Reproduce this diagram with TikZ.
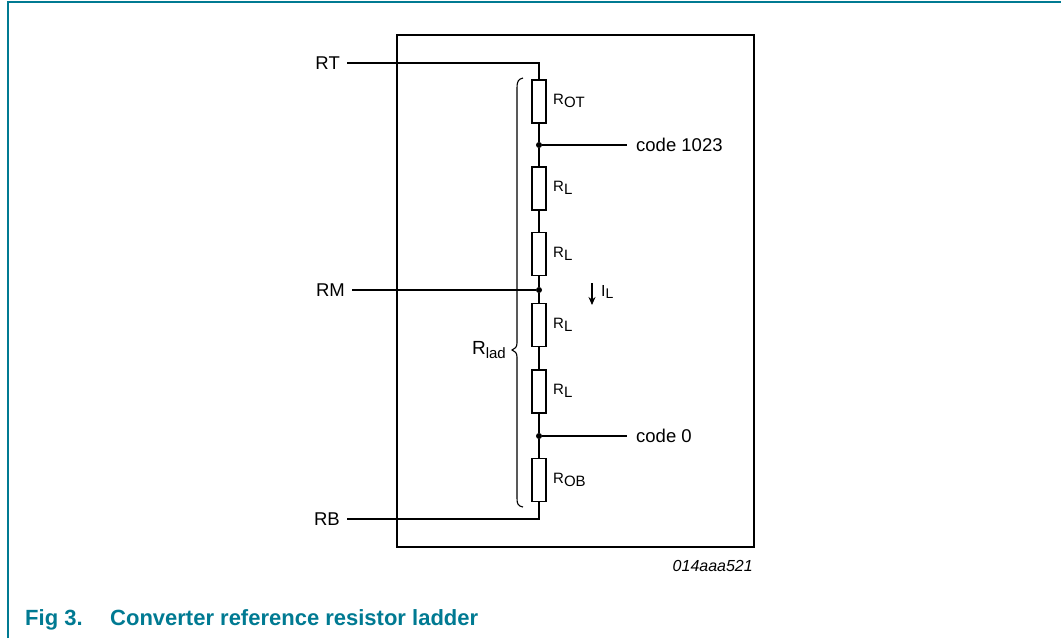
\documentclass[tikz,border=0pt]{standalone}
\usepackage{fontspec}
\setmainfont{Liberation Sans}
\usetikzlibrary{arrows.meta}
\definecolor{nxpteal}{RGB}{0,122,146}
\begin{document}
\begin{tikzpicture}[x=1pt,y=-1pt,
  res/.style={draw,fill=white,line width=1.1pt,minimum width=14pt,minimum height=43pt,inner sep=0pt},
  wire/.style={line width=1.1pt},
  lbl/.style={font=\fontsize{18.5}{21}\selectfont,inner sep=0pt},
  rlbl/.style={font=\fontsize{15}{17}\selectfont,inner sep=0pt,anchor=west},
  jdot/.style={circle,fill=black,inner sep=0pt,minimum size=6pt},
  figcap/.style={font=\fontsize{22}{26}\selectfont\bfseries,text=nxpteal,inner sep=0pt,anchor=base west}]
\useasboundingbox (0,0) rectangle (1061,638);
\draw[nxpteal,line width=1.5pt] (8,638) -- (8,2) -- (1061,2);
% box
\draw[line width=2.6pt] (397,35) rectangle (754,547);
% resistors
\node[res] (rOT) at (539,101.5) {};
\node[res] (rL1) at (539,188.5) {};
\node[res] (rL2) at (539,254) {};
\node[res] (rL3) at (539,325) {};
\node[res] (rL4) at (539,391.5) {};
\node[res] (rOB) at (539,480) {};
\node[jdot] (n1023) at (539,145) {};
\node[jdot] (nM) at (539,290) {};
\node[jdot] (n0) at (539,436) {};
\coordinate (ct) at (539,63);
\coordinate (cb) at (539,519);
\coordinate (e1023) at (627,145);
\coordinate (e0) at (627,436);
% labels
\node[lbl,anchor=east] (RT) at (340,63) {RT};
\node[lbl,anchor=east] (RM) at (345,290) {RM};
\node[lbl,anchor=east] (RB) at (340,519) {RB};
\node[lbl,anchor=west] (c1023) at (636,145) {code 1023};
\node[lbl,anchor=west] (c0) at (636,436) {code 0};
\node[rlbl] (lOT) at (553,101) {R\raisebox{-0.35ex}{OT}};
\node[rlbl] (lL1) at (553,188) {R\raisebox{-0.35ex}{L}};
\node[rlbl] (lL2) at (553,254) {R\raisebox{-0.35ex}{L}};
\node[rlbl] (lL3) at (553,325) {R\raisebox{-0.35ex}{L}};
\node[rlbl] (lL4) at (553,391) {R\raisebox{-0.35ex}{L}};
\node[rlbl] (lOB) at (553,480) {R\raisebox{-0.35ex}{OB}};
% wires
\draw[wire] ([xshift=7pt]RT.east) -- (ct) -- (rOT.north);
\draw[wire] (rOT.south) -- (n1023) -- (rL1.north);
\draw[wire] (rL1.south) -- (rL2.north);
\draw[wire] (rL2.south) -- (nM) -- (rL3.north);
\draw[wire] (rL3.south) -- (rL4.north);
\draw[wire] (rL4.south) -- (n0) -- (rOB.north);
\draw[wire] (rOB.south) -- (cb) -- ([xshift=7pt]RB.east);
\draw[wire] ([xshift=7pt]RM.east) -- (nM);
\draw[wire] (n1023) -- (e1023);
\draw[wire] (n0) -- (e0);
% current arrow
\coordinate (ia) at (592,283);
\coordinate (ib) at (592,305);
\draw[wire,-{Stealth[length=8pt,width=7pt]}] (ia) -- (ib);
\node[anchor=west,inner sep=0pt,font=\fontsize{16}{18}\selectfont] (IL) at (601,292) {I\raisebox{-0.35ex}{\fontsize{14}{16}\selectfont L}};
% brace
\draw[line width=1.1pt] (523,78) .. controls (518,79) and (517,82) .. (517,88)
  -- (517,343) .. controls (517,347) and (515,349) .. (512,350)
  .. controls (515,351) and (517,353) .. (517,357)
  -- (517,498) .. controls (517,504) and (518,506) .. (523,507);
\node[anchor=east,inner sep=0pt] (Rlad) at (506,350) {\fontsize{19}{21}\selectfont R\raisebox{-0.4ex}{\fontsize{15}{17}\selectfont lad}};
% id
\node[anchor=east,inner sep=0pt,font=\fontsize{16}{18}\selectfont\itshape] (id) at (753,566) {014aaa521};
% caption
\node[figcap] (fig) at (25,625) {Fig 3.};
\node[figcap] (ctext) at (110,625) {Converter reference resistor ladder};
\end{tikzpicture}
\end{document}
